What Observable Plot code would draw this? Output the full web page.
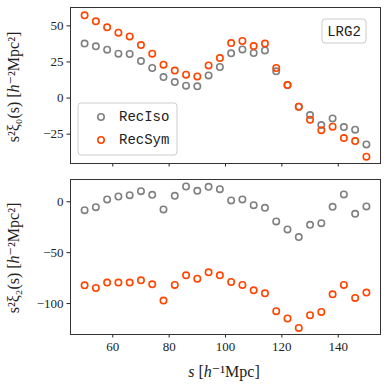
<!DOCTYPE html>
<html><head><meta charset="utf-8">
<script src="https://cdn.jsdelivr.net/npm/d3@7"></script>
<script src="https://cdn.jsdelivr.net/npm/@observablehq/plot@0.6"></script>
<style>
body{margin:0;background:#fff;}
#wrap{position:relative;width:388px;height:388px;overflow:hidden;}
#toppanel,#botpanel{position:absolute;left:0;}
#toppanel{top:0;} #botpanel{top:170px;}
</style></head>
<body><div id="wrap"><div id="toppanel"></div><div id="botpanel"></div></div>
<script>
const s = [50,54,58,62,66,70,74,78,82,86,90,94,98,102,106,110,114,118,122,126,130,134,138,142,146,150];
const xi0Iso = [37.7,35.8,33.5,30.7,30.5,25.6,20.8,14.5,11.1,8.6,8.1,15.7,21.5,31.0,33.7,31.2,33.0,18.5,9.0,-6.0,-11.8,-18.7,-14.1,-20.1,-21.9,-32.1];
const xi0Sym = [57.3,53.1,49.0,45.3,42.7,36.7,30.7,23.1,19.0,16.2,15.0,22.6,27.7,38.1,39.5,36.0,37.7,20.8,9.0,-6.0,-15.0,-22.2,-19.8,-27.7,-29.8,-40.6];
const xi2Iso = [-8.2,-5.3,2.3,5.2,6.5,10.4,6.8,-7.5,5.9,15.0,10.8,14.7,12.4,1.3,2.3,-3.3,-5.9,-19.3,-27.2,-34.7,-22.6,-21.0,-4.9,7.2,-11.8,-4.6];
const xi2Sym = [-82.1,-84.7,-79.4,-79.4,-79.4,-77.2,-81.1,-97.1,-81.7,-72.3,-75.5,-69.3,-72.3,-78.8,-81.7,-87.0,-89.9,-107.5,-114.7,-123.9,-111.5,-108.2,-90.9,-81.7,-94.5,-89.2];
const seriesNames = ["RecIso","RecSym"];
const seriesColors = ["#808080","#ff4500"];
const xTicks = [60,80,100,120,140];
const y0Ticks = [-25,0,25,50];
const y2Ticks = [-100,-50,0];
const panelLabel = "LRG2";

const serif = "'Liberation Serif', 'DejaVu Serif', serif";
const mono = "'Liberation Mono', 'DejaVu Sans Mono', monospace";

function rows(vals){ return s.map((x,i)=>({s:x, v:vals[i]})); }
function dotMark(vals, color){
  return Plot.dot(rows(vals), {x:"s", y:"v", r:3.2, stroke:color, strokeWidth:1.6, fill:"none"});
}
const common = {
  width:388, marginLeft:70, marginRight:8,
  x:{domain:[45,155]},
  style:{fontFamily:serif, fontSize:"13px", color:"#222", background:"#fff"}
};

const topSvg = Plot.plot({
  ...common, height:170, marginTop:7, marginBottom:7,
  y:{domain:[-45.3,62.7]},
  marks:[
    Plot.axisX({ticks:xTicks, tickSize:3.5, tickFormat:()=>"", label:null}),
    Plot.axisY({ticks:y0Ticks, tickSize:3.5, tickPadding:3.5, label:null}),
    dotMark(xi0Iso, seriesColors[0]),
    dotMark(xi0Sym, seriesColors[1]),
    Plot.frame({stroke:"#333", strokeWidth:1})
  ]
});
document.getElementById("toppanel").appendChild(topSvg);

const botSvg = Plot.plot({
  ...common, height:218, marginTop:9, marginBottom:54,
  y:{domain:[-130.4,21.9]},
  marks:[
    Plot.axisX({ticks:xTicks, tickSize:3.5, tickPadding:4, label:null}),
    Plot.axisY({ticks:y2Ticks, tickSize:3.5, tickPadding:3.5, label:null}),
    dotMark(xi2Iso, seriesColors[0]),
    dotMark(xi2Sym, seriesColors[1]),
    Plot.frame({stroke:"#333", strokeWidth:1})
  ]
});
document.getElementById("botpanel").appendChild(botSvg);

function yLabel(svg, cx, cy, sub){
  const t = d3.select(svg).append("text")
    .attr("transform",`translate(${cx},${cy}) rotate(-90)`)
    .attr("text-anchor","middle").attr("dominant-baseline","central")
    .attr("font-family",serif).attr("font-size","16px").attr("fill","#222");
  t.append("tspan").text("s²ξ" + sub + "(s) [");
  t.append("tspan").attr("font-style","italic").text("h");
  t.append("tspan").text("⁻²Mpc²]");
}
yLabel(topSvg, 13, 87, "₀");
yLabel(botSvg, 13, 88, "₂");

{
  const t = d3.select(botSvg).append("text")
    .attr("x",224).attr("y",201).attr("text-anchor","middle")
    .attr("dominant-baseline","central")
    .attr("font-family",serif).attr("font-size","16px").attr("fill","#222");
  t.append("tspan").attr("font-style","italic").text("s");
  t.append("tspan").text(" [");
  t.append("tspan").attr("font-style","italic").text("h");
  t.append("tspan").text("⁻¹Mpc]");
}

{
  const g = d3.select(topSvg).append("g");
  g.append("rect").attr("x",78).attr("y",103).attr("width",99).attr("height",52)
    .attr("rx",3).attr("fill","#fff").attr("fill-opacity",0.8)
    .attr("stroke","#ccc").attr("stroke-width",1);
  seriesNames.forEach((name,i)=>{
    const y = 117 + i*23;
    g.append("circle").attr("cx",101).attr("cy",y).attr("r",3.2)
      .attr("fill","none").attr("stroke",seriesColors[i]).attr("stroke-width",1.6);
    g.append("text").attr("x",119).attr("y",y).attr("text-anchor","start")
      .attr("dominant-baseline","central")
      .attr("font-family",mono).attr("font-size","14px").attr("fill","#222").text(name);
  });
}
{
  const g = d3.select(topSvg).append("g");
  g.append("rect").attr("x",322).attr("y",19).attr("width",44).attr("height",24)
    .attr("rx",3).attr("fill","#fff").attr("stroke","#ccc").attr("stroke-width",1);
  g.append("text").attr("x",344).attr("y",31.5).attr("text-anchor","middle")
    .attr("dominant-baseline","central").attr("font-family",mono).attr("font-size","14px")
    .attr("fill","#222").text(panelLabel);
}
</script></body></html>
